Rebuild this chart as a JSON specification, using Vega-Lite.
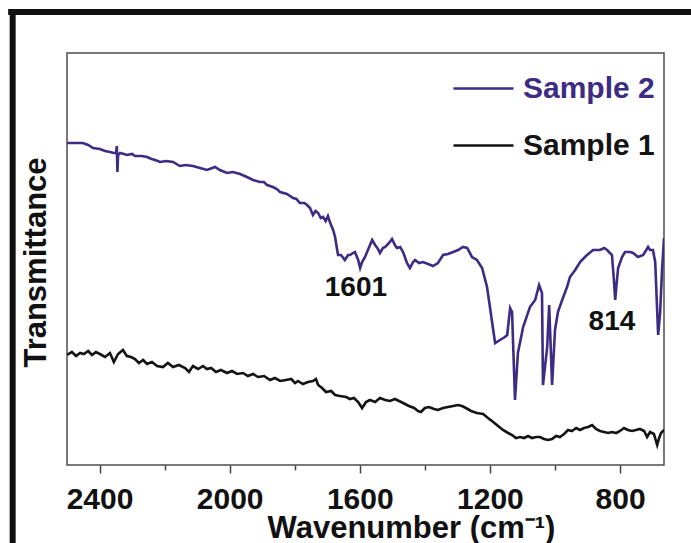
{
  "$schema": "https://vega.github.io/schema/vega-lite/v6.json",
  "width": 597,
  "height": 412,
  "autosize": {"type": "none"},
  "padding": {"left": 67, "top": 53, "right": 27, "bottom": 78},
  "background": "white",
  "config": {"view": {"stroke": "#4d4d4d", "strokeWidth": 1.5}, "font": "Liberation Sans"},
  "datasets": {
    "spectra": [
      {"s":"Sample 2","wn":2500,"T":322},{"s":"Sample 2","wn":2475,"T":322},{"s":"Sample 2","wn":2451,"T":322},{"s":"Sample 2","wn":2435,"T":320},{"s":"Sample 2","wn":2420,"T":317},{"s":"Sample 2","wn":2399,"T":316},{"s":"Sample 2","wn":2383,"T":314},{"s":"Sample 2","wn":2368,"T":313},{"s":"Sample 2","wn":2356,"T":312},{"s":"Sample 2","wn":2349,"T":312},{"s":"Sample 2","wn":2347,"T":319},{"s":"Sample 2","wn":2345,"T":293},{"s":"Sample 2","wn":2343,"T":310},{"s":"Sample 2","wn":2337,"T":312},{"s":"Sample 2","wn":2325,"T":311},{"s":"Sample 2","wn":2316,"T":310},{"s":"Sample 2","wn":2300,"T":311},{"s":"Sample 2","wn":2291,"T":309},{"s":"Sample 2","wn":2270,"T":309},{"s":"Sample 2","wn":2254,"T":308},{"s":"Sample 2","wn":2240,"T":306},{"s":"Sample 2","wn":2229,"T":305},{"s":"Sample 2","wn":2214,"T":303},{"s":"Sample 2","wn":2195,"T":304},{"s":"Sample 2","wn":2174,"T":303},{"s":"Sample 2","wn":2153,"T":299},{"s":"Sample 2","wn":2135,"T":300},{"s":"Sample 2","wn":2113,"T":299},{"s":"Sample 2","wn":2091,"T":297},{"s":"Sample 2","wn":2070,"T":295},{"s":"Sample 2","wn":2045,"T":298},{"s":"Sample 2","wn":2030,"T":295},{"s":"Sample 2","wn":2008,"T":292},{"s":"Sample 2","wn":1990,"T":293},{"s":"Sample 2","wn":1968,"T":291},{"s":"Sample 2","wn":1947,"T":288},{"s":"Sample 2","wn":1928,"T":285},{"s":"Sample 2","wn":1907,"T":283},{"s":"Sample 2","wn":1895,"T":283},{"s":"Sample 2","wn":1885,"T":280},{"s":"Sample 2","wn":1867,"T":278},{"s":"Sample 2","wn":1855,"T":276},{"s":"Sample 2","wn":1845,"T":273},{"s":"Sample 2","wn":1824,"T":271},{"s":"Sample 2","wn":1805,"T":267},{"s":"Sample 2","wn":1795,"T":266},{"s":"Sample 2","wn":1784,"T":262},{"s":"Sample 2","wn":1770,"T":262},{"s":"Sample 2","wn":1762,"T":260},{"s":"Sample 2","wn":1753,"T":257},{"s":"Sample 2","wn":1744,"T":250},{"s":"Sample 2","wn":1736,"T":254},{"s":"Sample 2","wn":1728,"T":252},{"s":"Sample 2","wn":1720,"T":247},{"s":"Sample 2","wn":1713,"T":248},{"s":"Sample 2","wn":1705,"T":244},{"s":"Sample 2","wn":1698,"T":249},{"s":"Sample 2","wn":1692,"T":243},{"s":"Sample 2","wn":1682,"T":235},{"s":"Sample 2","wn":1676,"T":228},{"s":"Sample 2","wn":1667,"T":210},{"s":"Sample 2","wn":1658,"T":210},{"s":"Sample 2","wn":1646,"T":205},{"s":"Sample 2","wn":1636,"T":210},{"s":"Sample 2","wn":1630,"T":210},{"s":"Sample 2","wn":1621,"T":212},{"s":"Sample 2","wn":1615,"T":213},{"s":"Sample 2","wn":1605,"T":205},{"s":"Sample 2","wn":1599,"T":197},{"s":"Sample 2","wn":1593,"T":203},{"s":"Sample 2","wn":1584,"T":208},{"s":"Sample 2","wn":1575,"T":215},{"s":"Sample 2","wn":1562,"T":225},{"s":"Sample 2","wn":1553,"T":220},{"s":"Sample 2","wn":1544,"T":216},{"s":"Sample 2","wn":1538,"T":212},{"s":"Sample 2","wn":1529,"T":217},{"s":"Sample 2","wn":1522,"T":218},{"s":"Sample 2","wn":1510,"T":222},{"s":"Sample 2","wn":1501,"T":226},{"s":"Sample 2","wn":1492,"T":220},{"s":"Sample 2","wn":1486,"T":217},{"s":"Sample 2","wn":1476,"T":218},{"s":"Sample 2","wn":1467,"T":213},{"s":"Sample 2","wn":1455,"T":202},{"s":"Sample 2","wn":1446,"T":197},{"s":"Sample 2","wn":1436,"T":203},{"s":"Sample 2","wn":1430,"T":205},{"s":"Sample 2","wn":1418,"T":202},{"s":"Sample 2","wn":1406,"T":203},{"s":"Sample 2","wn":1390,"T":201},{"s":"Sample 2","wn":1375,"T":199},{"s":"Sample 2","wn":1360,"T":202},{"s":"Sample 2","wn":1344,"T":210},{"s":"Sample 2","wn":1329,"T":211},{"s":"Sample 2","wn":1313,"T":213},{"s":"Sample 2","wn":1298,"T":215},{"s":"Sample 2","wn":1283,"T":218},{"s":"Sample 2","wn":1270,"T":217},{"s":"Sample 2","wn":1255,"T":208},{"s":"Sample 2","wn":1240,"T":205},{"s":"Sample 2","wn":1224,"T":197},{"s":"Sample 2","wn":1209,"T":178},{"s":"Sample 2","wn":1200,"T":158},{"s":"Sample 2","wn":1190,"T":135},{"s":"Sample 2","wn":1184,"T":122},{"s":"Sample 2","wn":1169,"T":125},{"s":"Sample 2","wn":1154,"T":128},{"s":"Sample 2","wn":1147,"T":130},{"s":"Sample 2","wn":1138,"T":157},{"s":"Sample 2","wn":1132,"T":153},{"s":"Sample 2","wn":1123,"T":65},{"s":"Sample 2","wn":1114,"T":112},{"s":"Sample 2","wn":1098,"T":138},{"s":"Sample 2","wn":1077,"T":158},{"s":"Sample 2","wn":1061,"T":165},{"s":"Sample 2","wn":1049,"T":180},{"s":"Sample 2","wn":1040,"T":172},{"s":"Sample 2","wn":1037,"T":80},{"s":"Sample 2","wn":1024,"T":118},{"s":"Sample 2","wn":1018,"T":160},{"s":"Sample 2","wn":1009,"T":80},{"s":"Sample 2","wn":1000,"T":135},{"s":"Sample 2","wn":991,"T":153},{"s":"Sample 2","wn":978,"T":165},{"s":"Sample 2","wn":963,"T":178},{"s":"Sample 2","wn":954,"T":188},{"s":"Sample 2","wn":938,"T":195},{"s":"Sample 2","wn":923,"T":203},{"s":"Sample 2","wn":905,"T":209},{"s":"Sample 2","wn":883,"T":215},{"s":"Sample 2","wn":862,"T":215},{"s":"Sample 2","wn":849,"T":217},{"s":"Sample 2","wn":840,"T":215},{"s":"Sample 2","wn":825,"T":210},{"s":"Sample 2","wn":819,"T":185},{"s":"Sample 2","wn":815,"T":165},{"s":"Sample 2","wn":811,"T":180},{"s":"Sample 2","wn":806,"T":197},{"s":"Sample 2","wn":794,"T":208},{"s":"Sample 2","wn":785,"T":213},{"s":"Sample 2","wn":769,"T":213},{"s":"Sample 2","wn":760,"T":212},{"s":"Sample 2","wn":745,"T":208},{"s":"Sample 2","wn":729,"T":210},{"s":"Sample 2","wn":714,"T":218},{"s":"Sample 2","wn":708,"T":215},{"s":"Sample 2","wn":699,"T":215},{"s":"Sample 2","wn":692,"T":203},{"s":"Sample 2","wn":683,"T":130},{"s":"Sample 2","wn":677,"T":152},{"s":"Sample 2","wn":671,"T":195},{"s":"Sample 2","wn":665,"T":227},
      {"s":"Sample 1","wn":2500,"T":110},{"s":"Sample 1","wn":2485,"T":113},{"s":"Sample 1","wn":2472,"T":109},{"s":"Sample 1","wn":2460,"T":112},{"s":"Sample 1","wn":2448,"T":111},{"s":"Sample 1","wn":2435,"T":114},{"s":"Sample 1","wn":2423,"T":110},{"s":"Sample 1","wn":2411,"T":113},{"s":"Sample 1","wn":2399,"T":111},{"s":"Sample 1","wn":2383,"T":108},{"s":"Sample 1","wn":2368,"T":112},{"s":"Sample 1","wn":2356,"T":103},{"s":"Sample 1","wn":2343,"T":111},{"s":"Sample 1","wn":2328,"T":115},{"s":"Sample 1","wn":2316,"T":109},{"s":"Sample 1","wn":2303,"T":108},{"s":"Sample 1","wn":2291,"T":106},{"s":"Sample 1","wn":2279,"T":102},{"s":"Sample 1","wn":2266,"T":105},{"s":"Sample 1","wn":2254,"T":101},{"s":"Sample 1","wn":2239,"T":103},{"s":"Sample 1","wn":2223,"T":99},{"s":"Sample 1","wn":2205,"T":98},{"s":"Sample 1","wn":2190,"T":102},{"s":"Sample 1","wn":2174,"T":98},{"s":"Sample 1","wn":2156,"T":100},{"s":"Sample 1","wn":2137,"T":97},{"s":"Sample 1","wn":2125,"T":93},{"s":"Sample 1","wn":2113,"T":99},{"s":"Sample 1","wn":2097,"T":96},{"s":"Sample 1","wn":2082,"T":99},{"s":"Sample 1","wn":2070,"T":96},{"s":"Sample 1","wn":2057,"T":97},{"s":"Sample 1","wn":2042,"T":93},{"s":"Sample 1","wn":2027,"T":95},{"s":"Sample 1","wn":2008,"T":92},{"s":"Sample 1","wn":1993,"T":94},{"s":"Sample 1","wn":1977,"T":91},{"s":"Sample 1","wn":1959,"T":92},{"s":"Sample 1","wn":1944,"T":89},{"s":"Sample 1","wn":1928,"T":91},{"s":"Sample 1","wn":1913,"T":88},{"s":"Sample 1","wn":1894,"T":89},{"s":"Sample 1","wn":1876,"T":85},{"s":"Sample 1","wn":1861,"T":87},{"s":"Sample 1","wn":1845,"T":84},{"s":"Sample 1","wn":1827,"T":85},{"s":"Sample 1","wn":1811,"T":86},{"s":"Sample 1","wn":1799,"T":82},{"s":"Sample 1","wn":1790,"T":84},{"s":"Sample 1","wn":1775,"T":81},{"s":"Sample 1","wn":1759,"T":83},{"s":"Sample 1","wn":1744,"T":84},{"s":"Sample 1","wn":1735,"T":86},{"s":"Sample 1","wn":1728,"T":80},{"s":"Sample 1","wn":1716,"T":77},{"s":"Sample 1","wn":1704,"T":73},{"s":"Sample 1","wn":1688,"T":74},{"s":"Sample 1","wn":1676,"T":70},{"s":"Sample 1","wn":1661,"T":69},{"s":"Sample 1","wn":1642,"T":68},{"s":"Sample 1","wn":1630,"T":66},{"s":"Sample 1","wn":1618,"T":67},{"s":"Sample 1","wn":1605,"T":63},{"s":"Sample 1","wn":1593,"T":57},{"s":"Sample 1","wn":1581,"T":63},{"s":"Sample 1","wn":1569,"T":65},{"s":"Sample 1","wn":1553,"T":63},{"s":"Sample 1","wn":1538,"T":67},{"s":"Sample 1","wn":1522,"T":65},{"s":"Sample 1","wn":1507,"T":64},{"s":"Sample 1","wn":1492,"T":66},{"s":"Sample 1","wn":1473,"T":63},{"s":"Sample 1","wn":1461,"T":61},{"s":"Sample 1","wn":1449,"T":59},{"s":"Sample 1","wn":1433,"T":57},{"s":"Sample 1","wn":1421,"T":54},{"s":"Sample 1","wn":1412,"T":53},{"s":"Sample 1","wn":1400,"T":57},{"s":"Sample 1","wn":1387,"T":58},{"s":"Sample 1","wn":1372,"T":56},{"s":"Sample 1","wn":1360,"T":55},{"s":"Sample 1","wn":1344,"T":57},{"s":"Sample 1","wn":1329,"T":58},{"s":"Sample 1","wn":1313,"T":59},{"s":"Sample 1","wn":1298,"T":60},{"s":"Sample 1","wn":1286,"T":59},{"s":"Sample 1","wn":1274,"T":57},{"s":"Sample 1","wn":1258,"T":54},{"s":"Sample 1","wn":1240,"T":52},{"s":"Sample 1","wn":1221,"T":51},{"s":"Sample 1","wn":1206,"T":47},{"s":"Sample 1","wn":1190,"T":43},{"s":"Sample 1","wn":1175,"T":39},{"s":"Sample 1","wn":1160,"T":35},{"s":"Sample 1","wn":1144,"T":32},{"s":"Sample 1","wn":1132,"T":30},{"s":"Sample 1","wn":1120,"T":27},{"s":"Sample 1","wn":1107,"T":28},{"s":"Sample 1","wn":1095,"T":27},{"s":"Sample 1","wn":1083,"T":29},{"s":"Sample 1","wn":1071,"T":27},{"s":"Sample 1","wn":1058,"T":28},{"s":"Sample 1","wn":1046,"T":28},{"s":"Sample 1","wn":1034,"T":26},{"s":"Sample 1","wn":1021,"T":25},{"s":"Sample 1","wn":1009,"T":26},{"s":"Sample 1","wn":997,"T":29},{"s":"Sample 1","wn":985,"T":28},{"s":"Sample 1","wn":972,"T":31},{"s":"Sample 1","wn":960,"T":35},{"s":"Sample 1","wn":948,"T":34},{"s":"Sample 1","wn":935,"T":37},{"s":"Sample 1","wn":923,"T":35},{"s":"Sample 1","wn":911,"T":37},{"s":"Sample 1","wn":898,"T":38},{"s":"Sample 1","wn":886,"T":40},{"s":"Sample 1","wn":874,"T":36},{"s":"Sample 1","wn":862,"T":34},{"s":"Sample 1","wn":849,"T":33},{"s":"Sample 1","wn":837,"T":32},{"s":"Sample 1","wn":825,"T":33},{"s":"Sample 1","wn":812,"T":32},{"s":"Sample 1","wn":800,"T":34},{"s":"Sample 1","wn":788,"T":37},{"s":"Sample 1","wn":776,"T":35},{"s":"Sample 1","wn":763,"T":34},{"s":"Sample 1","wn":751,"T":35},{"s":"Sample 1","wn":739,"T":36},{"s":"Sample 1","wn":726,"T":34},{"s":"Sample 1","wn":717,"T":28},{"s":"Sample 1","wn":708,"T":33},{"s":"Sample 1","wn":696,"T":31},{"s":"Sample 1","wn":686,"T":20},{"s":"Sample 1","wn":680,"T":27},{"s":"Sample 1","wn":674,"T":32},{"s":"Sample 1","wn":665,"T":35}
    ],
    "peaks": [
      {"label": "1601", "wn": 1612, "T": 177},
      {"label": "814", "wn": 825, "T": 143}
    ],
    "frame": [{"part": "border"}]
  },
  "layer": [
    {
      "data": {"name": "spectra"},
      "mark": {"type": "line", "strokeWidth": 2.6, "clip": true},
      "encoding": {
        "x": {
          "field": "wn", "type": "quantitative",
          "scale": {"domain": [2500, 665], "nice": false, "zero": false},
          "axis": {
            "values": [2400, 2200, 2000, 1800, 1600, 1400, 1200, 1000, 800],
            "format": "d",
            "labelExpr": "datum.value % 400 === 0 ? datum.label : ''",
            "tickSize": {"condition": {"test": "datum.value % 400 === 0", "value": 8}, "value": 5},
            "tickColor": "#444444", "tickWidth": 1.5,
            "domain": false, "grid": false,
            "labelFont": "Liberation Sans", "labelFontWeight": "bold", "labelFontSize": 30,
            "labelColor": "#111111", "labelPadding": 11, "labelFlush": false, "labelOverlap": false,
            "title": "Wavenumber (cm⁻¹)",
            "titleFont": "Liberation Sans", "titleFontWeight": "bold", "titleFontSize": 31,
            "titleColor": "#111111", "titleX": 344, "titleY": 72, "titleBaseline": "alphabetic", "titleAlign": "center"
          }
        },
        "y": {
          "field": "T", "type": "quantitative",
          "scale": {"domain": [0, 412], "nice": false, "zero": false},
          "axis": {
            "labels": false, "ticks": false, "domain": false, "grid": false,
            "title": "Transmittance",
            "titleFont": "Liberation Sans", "titleFontWeight": "bold", "titleFontSize": 31,
            "titleColor": "#111111", "titleX": -31, "titleY": 209, "titleBaseline": "middle", "titleAlign": "center"
          }
        },
        "color": {
          "field": "s", "type": "nominal",
          "scale": {"domain": ["Sample 2", "Sample 1"], "range": ["#3d2b84", "#141414"]},
          "legend": {
            "orient": "none", "legendX": 385, "legendY": 4, "title": null,
            "symbolType": "stroke", "symbolSize": 3600, "symbolStrokeWidth": 2.6,
            "labelFont": "Liberation Sans", "labelFontSize": 30, "labelFontWeight": "bold",
            "labelOffset": 8, "rowPadding": 10, "padding": 0,
            "encode": {"labels": {"update": {"fill": {"signal": "datum.label === 'Sample 2' ? '#3d2b84' : '#141414'"}}}}
          }
        }
      }
    },
    {
      "data": {"name": "peaks"},
      "mark": {"type": "text", "font": "Liberation Sans", "fontWeight": "bold", "fontSize": 28, "color": "#111111", "align": "center", "baseline": "middle"},
      "encoding": {
        "x": {"field": "wn", "type": "quantitative"},
        "y": {"field": "T", "type": "quantitative"},
        "text": {"field": "label"}
      }
    },
    {
      "data": {"name": "frame"},
      "mark": {"type": "rule", "color": "#111111", "strokeWidth": 6, "clip": false},
      "encoding": {"x": {"datum": 2667}, "y": {"datum": 456}, "y2": {"datum": -78}}
    },
    {
      "data": {"name": "frame"},
      "mark": {"type": "rule", "color": "#111111", "strokeWidth": 6, "clip": false},
      "encoding": {"x": {"datum": 2681}, "x2": {"datum": 582}, "y": {"datum": 453}}
    }
  ]
}
